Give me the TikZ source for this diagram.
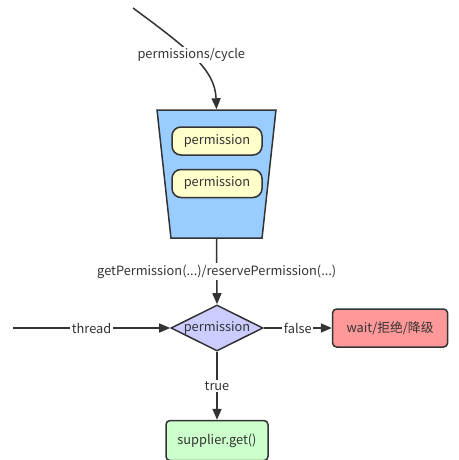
\documentclass[tikz,border=0pt]{standalone}
\usepackage{fontspec}
\setmainfont{Noto Sans CJK SC}
\usepackage{tikz}
\usetikzlibrary{shapes.geometric, arrows.meta, positioning}
\usepackage{xcolor}
\definecolor{lineGray}{HTML}{333333}
\definecolor{bucketBlue}{HTML}{99CCFF}
\definecolor{pillYellow}{HTML}{FFFFCC}
\definecolor{checkViolet}{HTML}{CCCCFF}
\definecolor{rejectRed}{HTML}{FF9999}
\definecolor{okGreen}{HTML}{CCFFCC}

\begin{document}
\begin{tikzpicture}[
      x=1pt, y=-1pt,
      node distance=13pt,
      line/.style={draw=lineGray, line width=1.5pt},
      arrow/.style={line, -{Triangle[length=11pt, width=9pt]}},
      tag/.style={fill=white, inner sep=1.5pt, text=lineGray, font=\fontsize{12.8}{15}\selectfont},
      bucket/.style={line, fill=bucketBlue, trapezium, shape border rotate=180,
        trapezium angle=81.3, trapezium stretches=true, minimum width=119pt, minimum height=128pt},
      pill/.style={line, fill=pillYellow, rounded corners=9pt, minimum width=90pt, minimum height=28pt,
        text=lineGray, font=\fontsize{12.8}{15}\selectfont},
      check/.style={line, fill=checkViolet, diamond, aspect=2, inner sep=0pt,
        minimum width=90pt, minimum height=44pt, text=lineGray, font=\fontsize{12.8}{15}\selectfont},
      result/.style={line, rounded corners=4pt, minimum height=38pt, text=lineGray, font=\fontsize{12.8}{15}\selectfont}
    ]
    \useasboundingbox (0,0) rectangle (458,460);

    % Bucket of permissions
    \node[bucket] (bucket) at (216.5,174) {};
    \node[pill] (permA) at (217,141) {permission};
    \node[pill, below=of permA] (permB) {permission};

    % Decision and results
    \node[check] (gate) at (217,328) {permission};
    \node[result, fill=rejectRed, minimum width=115pt, right=68pt of gate] (reject) {wait/拒绝/降级};
    \node[result, fill=okGreen, minimum width=102pt, minimum height=40pt, below=68pt of gate] (supply) {supplier.get()};

    % Free ends
    \coordinate (cycleStart) at (133,8);
    \coordinate (threadStart) at (13,328);

    % Connectors
    \draw[arrow] (cycleStart) .. controls (190,50) and (215,70) .. node[tag, pos=0.45] {permissions/cycle} (bucket.north);
    \draw[arrow] (bucket.south) -- node[tag] {getPermission(...)/reservePermission(...)} (gate.north);
    \draw[arrow] (threadStart) -- node[tag] {thread} (gate.west);
    \draw[arrow] (gate.east) -- node[tag] {false} (reject.west);
    \draw[arrow] (gate.south) -- node[tag] {true} (supply.north);

  \end{tikzpicture}
\end{document}
